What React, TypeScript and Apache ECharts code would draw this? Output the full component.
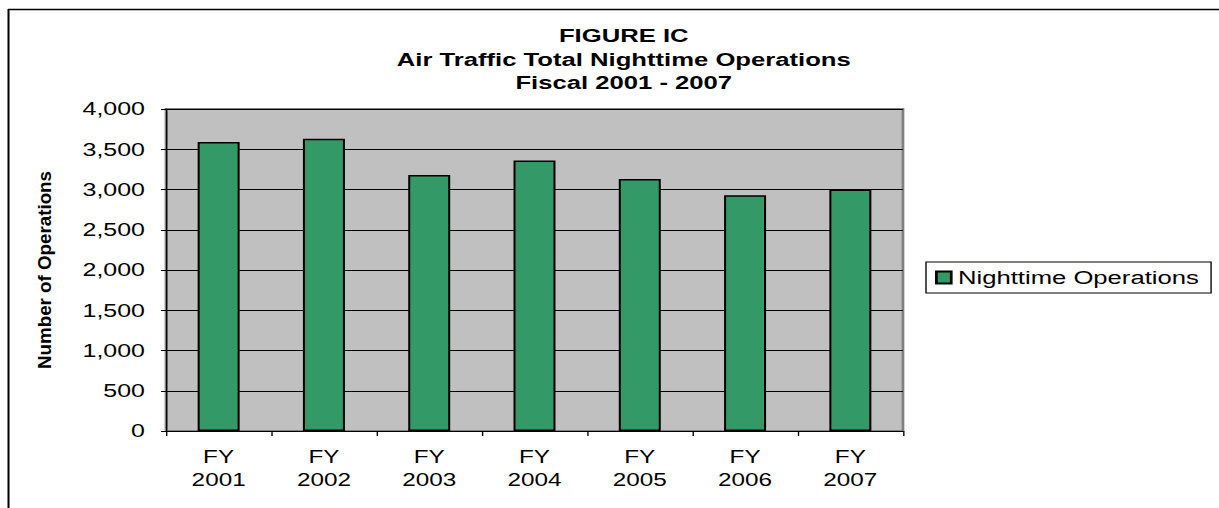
import React, { useEffect, useRef } from "react";
import * as echarts from "echarts";

const categories = ["FY\n2001", "FY\n2002", "FY\n2003", "FY\n2004", "FY\n2005", "FY\n2006", "FY\n2007"];
const nighttimeOps = [3590, 3630, 3180, 3360, 3130, 2930, 3000];
const seriesName = "Nighttime Operations";
const titleLines = ["FIGURE IC", "Air Traffic Total Nighttime Operations", "Fiscal 2001 - 2007"];
const yAxisName = "Number of Operations";

const FONT = "'Liberation Sans', Arial, Helvetica, sans-serif";
// The reference picture is horizontally stretched; reproduce by rendering narrower and scaling.
const S = 1.35;
const W = 1219;
const H = 508;
const X = (px: number) => px / S;

export default function App() {
  const ref = useRef<HTMLDivElement>(null);
  useEffect(() => {
    if (!ref.current) return;
    const chart = echarts.init(ref.current, undefined, { renderer: "svg" });
    chart.setOption({
      animation: false,
      backgroundColor: "#ffffff",
      textStyle: { fontFamily: FONT },
      title: {
        text: titleLines.join("\n"),
        left: X(617),
        top: 19,
        textAlign: "center",
        textStyle: { fontFamily: FONT, fontSize: 19, fontWeight: "bold", color: "#000", lineHeight: 23.5 },
      },
      graphic: [
        { type: "line", shape: { x1: X(8), y1: 9.5, x2: X(W), y2: 9.5 }, style: { stroke: "#000", lineWidth: 1.5 } },
        { type: "line", shape: { x1: X(8.5), y1: 9, x2: X(8.5), y2: H }, style: { stroke: "#000", lineWidth: 1.5 } },
        {
          type: "text",
          x: X(45),
          y: 270,
          rotation: Math.PI / 2,
          scaleX: 1.36,
          style: {
            text: yAxisName,
            font: "bold 13.8px " + FONT,
            fill: "#000",
            align: "center",
            verticalAlign: "middle",
          },
        },
      ],
      legend: {
        show: true,
        orient: "vertical",
        left: X(926),
        top: 262,
        padding: [6, 9, 6, 6.7],
        borderColor: "#000",
        borderWidth: 1,
        backgroundColor: "#fff",
        itemWidth: 11,
        itemHeight: 12,
        icon: "rect",
        textStyle: { fontFamily: FONT, fontSize: 19, color: "#000" },
        data: [seriesName],
      },
      grid: {
        left: X(166),
        top: 109,
        width: X(737),
        height: 322,
        show: true,
        backgroundColor: "#C0C0C0",
        borderColor: "#808080",
        borderWidth: 2,
        containLabel: false,
      },
      xAxis: {
        type: "category",
        data: categories,
        boundaryGap: true,
        axisLine: { show: true, lineStyle: { color: "#000", width: 1 } },
        axisTick: { show: true, alignWithLabel: false, length: 5, lineStyle: { color: "#000" } },
        axisLabel: { fontFamily: FONT, fontSize: 18, color: "#000", lineHeight: 23, margin: 15 },
        splitLine: { show: false },
      },
      yAxis: {
        type: "value",
        min: 0,
        max: 4000,
        interval: 500,
        axisLine: { show: true, lineStyle: { color: "#000", width: 1 } },
        axisTick: { show: true, length: X(5), lineStyle: { color: "#000" } },
        axisLabel: {
          fontFamily: FONT,
          fontSize: 18.5,
          color: "#000",
          margin: X(21),
          formatter: (v: number) => v.toLocaleString("en-US"),
        },
        splitLine: { show: true, lineStyle: { color: "#000", width: 1 } },
      },
      series: [
        {
          name: seriesName,
          type: "bar",
          data: nighttimeOps,
          barWidth: X(42),
          itemStyle: { color: "#339966", borderColor: "#000", borderWidth: 1.5 },
        },
      ],
    });
    return () => chart.dispose();
  }, []);
  return (
    <div style={{ position: "absolute", left: 0, top: 0, width: W, height: H, overflow: "hidden", background: "#fff" }}>
      <div
        ref={ref}
        style={{ width: W / S, height: H, transform: `scaleX(${S})`, transformOrigin: "0 0" }}
      />
    </div>
  );
}
